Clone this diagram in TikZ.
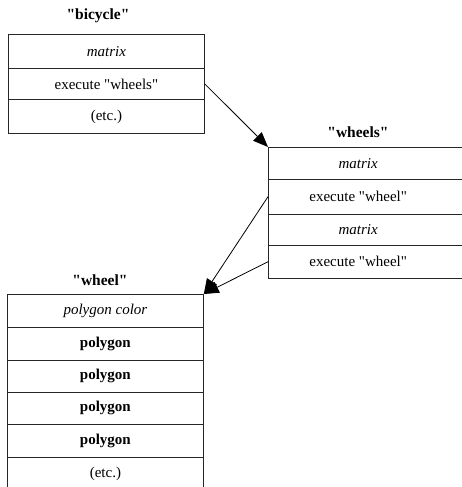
\documentclass[tikz,border=0pt]{standalone}
\usepackage{fontspec}
\setmainfont{Liberation Serif}[Ligatures=TeXOff]
\usetikzlibrary{arrows.meta}
\begin{document}
\begin{tikzpicture}[x=1pt,y=-1pt,
  row/.style={draw=black!85, line width=0.8pt, minimum width=196pt, inner sep=0pt, anchor=north west, font=\fontsize{15}{17}\selectfont},
  wrow/.style={inner sep=0pt, minimum width=180pt, anchor=north west, font=\fontsize{15}{17}\selectfont},
  boxline/.style={draw=black!85, line width=0.8pt},
  title/.style={font=\fontsize{15.5}{18}\selectfont\bfseries},
  link/.style={draw=black, line width=0.8pt, -{Triangle[length=15pt,width=12pt]}}]
\useasboundingbox (0,0) rectangle (461,487);
% bicycle
\node[title] (tbic) at (98,16) {"bicycle"};
\node[row, minimum height=34pt] (bmat) at (8,34) {\textit{matrix}};
\node[row, minimum height=31pt] (bexec) at (8,68) {execute "wheels"};
\node[row, minimum height=34pt] (betc) at (8,99) {(etc.)};
% wheels
\node[title] (twhs) at (358,132) {"wheels"};
\node[wrow, minimum height=32pt] (wmat1) at (268,147) {\textit{matrix}};
\node[wrow, minimum height=35pt] (wexec1) at (268,179) {execute "wheel"};
\node[wrow, minimum height=31pt] (wmat2) at (268,214) {\textit{matrix}};
\node[wrow, minimum height=33pt] (wexec2) at (268,245) {execute "wheel"};
\draw[boxline] (wmat1.north west) -- (wexec2.south west);
\foreach \n in {wmat1,wexec1,wmat2,wexec2}{
  \draw[boxline] (\n.north west) -- ++(200,0);
}
\draw[boxline] (wexec2.south west) -- ++(200,0);
% wheel
\node[title] (twh) at (100,280) {"wheel"};
\node[row, minimum height=33pt] (pc) at (7,294) {\textit{polygon color}};
\node[row, minimum height=33pt] (p1) at (7,327) {\textbf{polygon}};
\node[row, minimum height=32pt] (p2) at (7,360) {\textbf{polygon}};
\node[row, minimum height=32pt] (p3) at (7,392) {\textbf{polygon}};
\node[row, minimum height=33pt] (p4) at (7,424) {\textbf{polygon}};
\node[row, minimum height=33pt] (petc) at (7,457) {(etc.)};
% connectors
\draw[link] (bexec.east) -- (wmat1.north west);
\draw[link] (wexec1.west) -- (pc.north east);
\draw[link] (wexec2.west) -- (pc.north east);
\end{tikzpicture}
\end{document}
